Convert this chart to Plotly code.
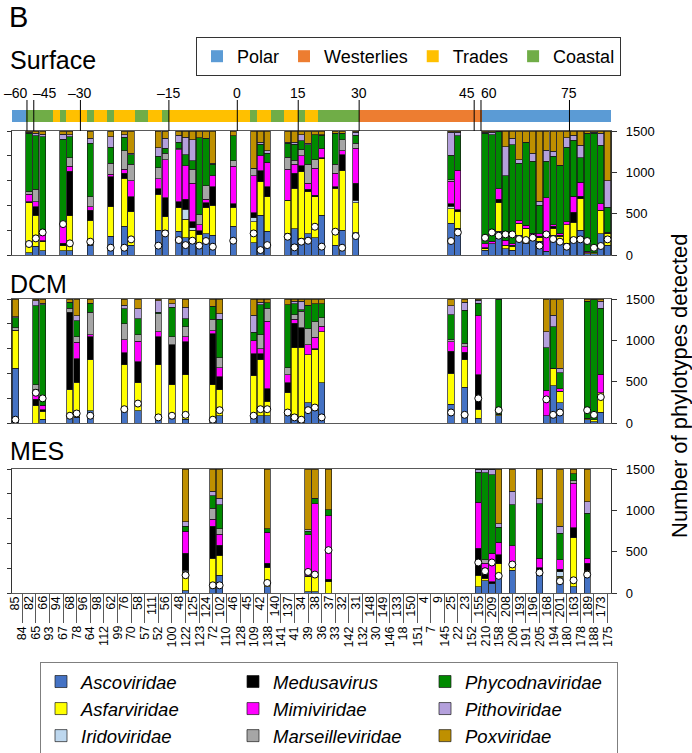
import plotly.graph_objects as go

# ---------------- data ----------------
STATIONS = [85, 84, 82, 65, 66, 93, 94, 67, 68, 78, 96, 64, 98, 112, 62, 99, 76, 70, 58, 57,
            111, 52, 56, 100, 48, 122, 125, 123, 124, 72, 102, 110, 46, 128, 45, 109, 42, 138,
            140, 141, 137, 41, 34, 39, 38, 36, 37, 33, 32, 142, 31, 132, 148, 30, 149, 146, 133,
            18, 150, 151, 4, 7, 9, 145, 25, 22, 23, 152, 155, 210, 209, 158, 208, 206, 193, 191,
            196, 205, 168, 194, 201, 180, 163, 178, 189, 188, 173, 175]

REGION_RUNS = [("Polar", 2), ("Coastal", 4), ("Trades", 1), ("Coastal", 1), ("Trades", 3),
               ("Coastal", 1), ("Trades", 2), ("Coastal", 1), ("Trades", 3), ("Coastal", 2),
               ("Trades", 2), ("Coastal", 1), ("Trades", 12), ("Coastal", 1), ("Trades", 2),
               ("Coastal", 2), ("Trades", 2), ("Coastal", 1), ("Trades", 2), ("Coastal", 6),
               ("Westerlies", 18), ("Polar", 19)]
REGIONS = ["Polar", "Westerlies", "Trades", "Coastal"]
REGION_COLORS = ["#5B9BD5", "#ED7D31", "#FFC000", "#70AD47"]

LAT_LABELS = ["\u201360", "\u201345", "\u201330", "\u201315", "0", "15", "30", "45", "60", "75"]
LAT_POS = [1.7, 2.7, 9.55, 22.55, 32.6, 41.55, 50.5, 67.4, 68.4, 81.4]   # in station-index units

FAMILIES = ["Ascoviridae", "Asfarviridae", "Iridoviridae", "Medusavirus", "Mimiviridae",
            "Marseilleviridae", "Phycodnaviridae", "Pithoviridae", "Poxviridae"]
FAMILY_COLORS = ["#4472C4", "#FFFF00", "#BDD7EE", "#000000", "#FF00FF",
                 "#A6A6A6", "#008A00", "#B4A0DC", "#BF9000"]
LEGEND_RANK = [1, 4, 7, 2, 5, 8, 3, 6, 9]

# composition in % : Asco, Asfar, Irido, Medusa, Mimi, Marseille, Phyco, Pitho, Pox
SRF_STATIONS = [82, 65, 66, 67, 68, 64, 62, 76, 70, 52, 56, 48, 122, 125, 123, 124, 72, 46, 109,
                42, 138, 137, 41, 34, 39, 38, 36, 33, 32, 31, 25, 22, 210, 209, 158, 208, 206,
                193, 191, 196, 205, 168, 194, 201, 180, 163, 178, 189, 188, 173, 175]
SRF_COMP = [
    [2, 40, 0, 1, 6, 2, 47, 1, 1], [7, 25, 0, 7, 4, 10, 43, 2, 2], [3.5, 7, 0, 1, 4, 0, 80, 2, 2.5],
    [3.5, 4, 0, 2, 14, 0, 70, 4, 2.5], [3.5, 28, 0, 36, 4, 7, 17, 1.5, 3], [8, 20, 0, 8, 3, 8, 43, 4, 6],
    [15, 24, 0, 24, 2, 9, 13, 8.5, 4.5], [23, 39, 0, 4, 3, 15, 11, 2, 3], [8, 27, 0, 12, 13, 13, 8, 1, 18],
    [20, 29, 0, 4.5, 8, 9, 9, 7, 13.5], [20, 11, 0, 15, 31, 5, 4, 8, 6], [19, 19, 0, 5, 42, 1, 5, 5.5, 3.5],
    [14, 15, 8, 8, 27, 0, 9, 14, 5], [13, 7, 2, 5, 31, 11, 7, 17, 7], [7, 9.5, 0, 3, 5, 8, 62, 0, 5.5],
    [17, 21, 0, 4, 3, 11, 38, 0, 6], [16, 24, 0, 15, 9, 0, 9, 1, 26], [23, 15.5, 0, 3, 30, 4.5, 20, 0, 4],
    [10, 17, 3, 4, 30, 6, 0, 0, 30], [32, 27, 0, 9, 12, 0, 9.5, 1.5, 9], [19, 28, 0, 8, 20, 0, 7, 2, 16],
    [17, 27, 0, 0, 25, 10, 11, 1, 9], [21, 33, 0, 12, 7, 3.5, 13, 1.5, 9], [13, 54, 0, 5, 8, 5, 7, 5, 3],
    [17, 34, 0, 2, 5, 15, 16, 1, 10], [14, 33, 0, 1, 22, 7, 20, 0, 3], [32, 45.5, 0, 1, 7, 0, 11, 0.5, 3],
    [8, 46, 0, 1, 11, 7, 25, 0, 2], [20, 48, 0, 13, 3, 9, 5, 0, 2], [18, 24, 2, 14, 28, 4, 6.5, 2.5, 1],
    [25.5, 12, 2, 2, 18, 1, 20, 18.5, 1], [21.5, 13.5, 0, 1.5, 32, 0, 27.5, 3, 1],
    [4, 1, 0, 1, 3, 0, 89, 1, 1], [9, 0, 0, 0, 2, 0, 86, 2, 1], [19, 23, 0, 3, 8.5, 0, 46.5, 0, 0],
    [5, 3, 0, 0, 4, 0, 52, 23.5, 12.5], [4, 3, 0, 1, 1, 0, 80, 5, 6], [16, 9.5, 0, 0, 2.5, 0, 46, 3, 23],
    [9.5, 12, 0, 0, 2.5, 0, 67, 0, 9], [12, 4, 0, 0, 1.5, 0, 58, 6.5, 18], [11, 3, 0, 1, 2, 0, 23, 3.5, 56.5],
    [3, 0, 0, 0, 43, 0, 29.5, 9, 15.5], [16, 5.5, 0, 1.5, 1.5, 0, 55, 4, 16.5], [12, 3, 0, 1, 1.5, 0, 55, 0, 27.5],
    [9.5, 15, 0, 0, 2.5, 0, 60, 7.5, 5.5], [14, 12.5, 0, 8, 13, 0, 45, 4, 3.5], [20, 25.5, 0, 2, 11, 0, 20, 10, 11.5],
    [1, 1, 0, 0, 1, 0, 95, 0, 2], [1, 1, 0, 0, 0, 0, 96, 1, 1], [17, 19, 0, 0, 5.5, 0, 47, 9.5, 2],
    [8, 9.5, 0, 0, 1, 0, 20, 21.5, 40]]
SRF_COUNT = [133, 201, 273, 374, 141, 161, 88, 88, 189, 113, 261, 181, 120, 173, 113, 169, 100, 173, 261,
             60, 120, 221, 92, 161, 173, 342, 101, 282, 88, 229, 169, 273, 209, 273, 233, 249, 249,
             193, 181, 209, 113, 249, 193, 161, 100, 181, 189, 169, 88, 109, 189]

DCM_STATIONS = [85, 65, 66, 68, 78, 64, 76, 58, 52, 100, 122, 72, 102, 109, 42, 138, 137, 41, 34, 39,
                38, 36, 25, 23, 155, 158, 168, 194, 201, 189, 188, 173]
DCM_COMP = [
    [44, 30.5, 0, 0, 0.5, 2, 8, 0.5, 14.5], [0, 14, 0, 5, 8, 4, 63.5, 4, 1.5], [3, 6.5, 0, 1, 4, 0, 81, 1, 3.5],
    [4.5, 22.5, 0, 62.5, 0, 3, 5, 0, 2.5], [4.5, 28.5, 0, 19, 13, 4.5, 13, 4, 13.5], [10, 41, 0, 18.5, 1.5, 18.5, 7, 0, 3.5],
    [10, 37, 0, 9.5, 10.5, 13, 12, 3, 5], [10, 22.5, 0, 17, 16.5, 5, 13, 8, 8], [4, 43, 0, 22.5, 4, 14.5, 1.5, 9, 1.5],
    [4, 27, 0, 32, 0, 6.5, 24, 2.5, 4], [3, 36, 0, 26.5, 4, 8, 6.5, 9.5, 6.5], [3, 28, 0, 41, 2.5, 9, 10.5, 0, 6],
    [6, 21, 0, 10.5, 7, 8, 31, 4.5, 12], [7, 31, 0, 18, 10.5, 0, 6.5, 14, 13], [6, 45, 0, 5, 4, 11, 24.5, 2, 2.5],
    [6, 11.5, 0, 10, 54.5, 10.5, 4.5, 0, 3], [6, 18.5, 0, 8, 6.5, 5.5, 51, 0, 4.5], [4.5, 56, 0, 20, 3, 4, 8.5, 2, 2],
    [4, 57, 0, 16, 0, 13, 1.5, 6.5, 2], [16.5, 38.5, 0, 0, 8, 13, 19, 0, 5], [10, 49, 0, 1, 9, 12.5, 14.5, 0, 4],
    [32.5, 41, 0, 0, 4.5, 7, 11, 0, 4], [15, 25, 0, 18, 7.5, 2, 20, 7, 5.5], [29, 22, 0, 6, 4.5, 3, 26.5, 6.5, 2.5],
    [4, 7, 0, 28, 47.5, 0, 10, 2.5, 1], [6, 1, 0, 0, 0, 0, 93, 0, 0], [6, 0, 0, 0, 20.5, 0, 34, 13, 26.5],
    [30, 14, 0, 0, 0, 0, 33.5, 9.5, 13], [16.5, 9, 0, 0, 2, 0, 13, 3.5, 56], [2.5, 1.5, 0, 0, 0, 0, 94, 0, 2],
    [1, 1.5, 0, 0, 0, 0, 97, 0, 0.5], [8.5, 16, 0, 0, 15, 0, 53, 5.5, 2]]
DCM_COUNT = [40, 366, 298, 88, 115, 88, 167, 235, 68, 88, 99, 40, 155, 88, 167, 167, 127, 68, 40, 155,
             187, 68, 127, 99, 298, 155, 286, 99, 127, 155, 99, 314]

MES_STATIONS = [122, 72, 102, 138, 39, 38, 37, 155, 210, 209, 158, 206, 205, 201, 163, 189]
MES_COMP = [
    [2, 15, 1.5, 13.5, 18, 0, 4, 3.5, 42.5], [3.5, 24.5, 0, 26, 5.5, 9, 10, 3.5, 18],
    [14.5, 16, 0, 8, 9, 4.5, 19, 5.5, 23.5], [5, 15.5, 0, 3.5, 25, 0, 3, 0, 48],
    [1, 12, 0, 1, 33, 0, 3, 1, 49], [1, 12.5, 0, 0.5, 58, 0, 4.5, 0, 23.5],
    [0, 9, 0, 2, 51.5, 0, 4.5, 0, 33], [5, 9.5, 0, 21.5, 37, 0, 24.5, 2.5, 0],
    [10, 2, 0, 8, 4, 3, 70, 3, 0], [7.5, 0, 0, 1.5, 23, 0, 63.5, 4.5, 0],
    [11.5, 12, 0, 7.5, 10, 0, 12, 3, 44], [18.5, 5.5, 0, 0, 14, 0, 33, 11, 18],
    [18.5, 0, 0, 2, 7.5, 0, 44, 4, 24], [12.5, 1, 3.5, 2, 8, 0, 21, 6, 46],
    [5, 39.5, 0, 8, 36, 2, 5.5, 0, 4], [17, 1.5, 0, 5.5, 4, 0, 36.5, 9, 26.5]]
MES_COUNT = [215, 93, 93, 122, 255, 223, 519, 369, 264, 369, 207, 345, 247, 142, 154, 223]

DEPTHS = [("Surface", SRF_STATIONS, SRF_COMP, SRF_COUNT),
          ("DCM", DCM_STATIONS, DCM_COMP, DCM_COUNT),
          ("MES", MES_STATIONS, MES_COMP, MES_COUNT)]

# ---------------- layout constants ----------------
W, H = 692, 753
ML, MR = 12, 81
FONT = "Liberation Sans, Arial, sans-serif"
AX = "#595959"


def py(px):  # pixel row -> paper y
    return 1 - px / H


def pxx(px):  # pixel column -> paper x
    return (px - ML) / (W - ML - MR)


PANELS = [(131, 255), (299, 423), (469, 593)]
N = len(STATIONS)
idx = {s: i for i, s in enumerate(STATIONS)}
XR = [-0.5, N - 0.5]

fig = go.Figure()
layout = dict()

for p, (name, st, comp, cnt) in enumerate(DEPTHS):
    xa = "x" if p == 0 else f"x{p + 1}"
    ya_l = f"y{2 * p + 1}" if p else "y"
    ya_r = f"y{2 * p + 2}"
    xs = [idx[s] for s in st]
    for f, fam in enumerate(FAMILIES):
        vals = [row[f] * 100.0 / sum(row) for row in comp]
        fig.add_trace(go.Bar(
            x=xs, y=vals, xaxis=xa, yaxis=ya_l, name=f"<i>{fam}</i>",
            marker=dict(color=FAMILY_COLORS[f], line=dict(color="#1a1a1a", width=0.7)),
            legendgroup=fam, showlegend=(p == 0), legendrank=LEGEND_RANK[f],
            legend="legend", hoverinfo="skip"))
    fig.add_trace(go.Scatter(
        x=xs, y=cnt, xaxis=xa, yaxis=ya_r, mode="markers", showlegend=False,
        marker=dict(color="white", size=7, line=dict(color="black", width=1)),
        cliponaxis=False, hoverinfo="skip"))

    top, bot = PANELS[p]
    dom = [py(bot), py(top)]
    xkey = "xaxis" if p == 0 else f"xaxis{p + 1}"
    ylkey = "yaxis" if p == 0 else f"yaxis{2 * p + 1}"
    yrkey = f"yaxis{2 * p + 2}"
    xdict = dict(domain=[0, 1], range=XR, anchor=ya_l, showticklabels=False, showgrid=False,
                 zeroline=False, showline=True, linecolor=AX, linewidth=1, mirror=True, ticks="")
    if p == 2:
        xdict.update(ticks="outside", tickvals=list(range(1, N, 2)), ticklen=29,
                     tickcolor=AX, tickwidth=1)
    layout[xkey] = xdict
    layout[ylkey] = dict(domain=dom, range=[0, 100], anchor=xa, tickvals=[0, 20, 40, 60, 80, 100],
                         ticks="outside", ticklen=4, tickcolor="#333", showticklabels=False,
                         showgrid=False, zeroline=False, showline=True, linecolor="#333", linewidth=1.3)
    layout[yrkey] = dict(overlaying=ya_l, side="right", anchor=xa, range=[0, 1500],
                         tickvals=[0, 500, 1000, 1500], ticks="outside", ticklen=5, tickcolor="#333",
                         ticklabelstandoff=6,
                         showgrid=False, zeroline=False, showline=True, linecolor="#333", linewidth=1.3,
                         tickfont=dict(size=13, color="#000", family=FONT))

# latitude / region strip
reg_list = []
for r, n in REGION_RUNS:
    reg_list += [r] * n
for r, c in zip(REGIONS, REGION_COLORS):
    xs = [i for i, rr in enumerate(reg_list) if rr == r]
    fig.add_trace(go.Bar(x=xs, y=[1] * len(xs), width=1, xaxis="x4", yaxis="y7", name=r,
                         marker=dict(color=c, line=dict(width=0)), legend="legend2",
                         hoverinfo="skip"))
layout["xaxis4"] = dict(domain=[0, 1], range=XR, anchor="y7", visible=False)
layout["yaxis7"] = dict(domain=[py(122), py(110)], range=[0, 1], anchor="x4", visible=False)

shapes = []
annotations = []
for lab, pos in zip(LAT_LABELS, LAT_POS):
    shapes.append(dict(type="line", xref="x4", yref="paper", x0=pos, x1=pos, y0=py(100), y1=py(131),
                       line=dict(color="#000", width=1)))
LAT_ANCHOR = {"\u201360": ("right", 3), "\u201345": ("left", -3), "45": ("right", 3), "60": ("left", -2)}
for lab, pos in zip(LAT_LABELS, LAT_POS):
    anc, sh = LAT_ANCHOR.get(lab, ("center", 0))
    annotations.append(dict(x=pos, y=py(93), xref="x4", yref="paper", text=lab, showarrow=False,
                            xanchor=anc, yanchor="middle", xshift=sh,
                            font=dict(size=14, family=FONT, color="#000")))

# station labels
for i, s in enumerate(STATIONS):
    annotations.append(dict(x=i, y=py(594 if i % 2 == 0 else 624), xref="x3", yref="paper",
                            text=str(s), textangle=-90, showarrow=False, xanchor="center",
                            yanchor="top", font=dict(size=12.5, family=FONT, color="#000")))

# panel titles
annotations.append(dict(x=pxx(7), y=py(17), xref="paper", yref="paper", text="B", showarrow=False,
                        xanchor="left", yanchor="middle", font=dict(size=29, family=FONT, color="#000")))
for (name, *_), ty in zip(DEPTHS, [60, 284, 451]):
    annotations.append(dict(x=pxx(8), y=py(ty), xref="paper", yref="paper", text=name,
                            showarrow=False, xanchor="left", yanchor="middle",
                            font=dict(size=25, family=FONT, color="#000")))
annotations.append(dict(x=pxx(679), y=py(386), xref="paper", yref="paper",
                        text="Number of phylotypes detected", textangle=-90, showarrow=False,
                        xanchor="center", yanchor="middle", font=dict(size=22, family=FONT, color="#000")))

fig.update_layout(
    width=W, height=H, margin=dict(l=ML, r=MR, t=0, b=0, autoexpand=False),
    paper_bgcolor="white", plot_bgcolor="white",
    barmode="stack", bargap=0.08,
    font=dict(family=FONT, color="#000"),
    shapes=shapes, annotations=annotations,
    legend=dict(orientation="h", x=pxx(40), y=py(662), xanchor="left", yanchor="top",
                bordercolor="#7f7f7f", borderwidth=1, bgcolor="white", entrywidth=147,
                traceorder="normal", font=dict(size=18.5, family=FONT, color="#000")),
    legend2=dict(orientation="h", x=pxx(196), y=py(37), xanchor="left", yanchor="top",
                 bordercolor="#333", borderwidth=1, bgcolor="white", traceorder="normal",
                 font=dict(size=18, family=FONT, color="#000")),
    **layout)

fig.write_html("out.html", post_script="document.body.style.margin='0px';",
               config={"displayModeBar": False})
